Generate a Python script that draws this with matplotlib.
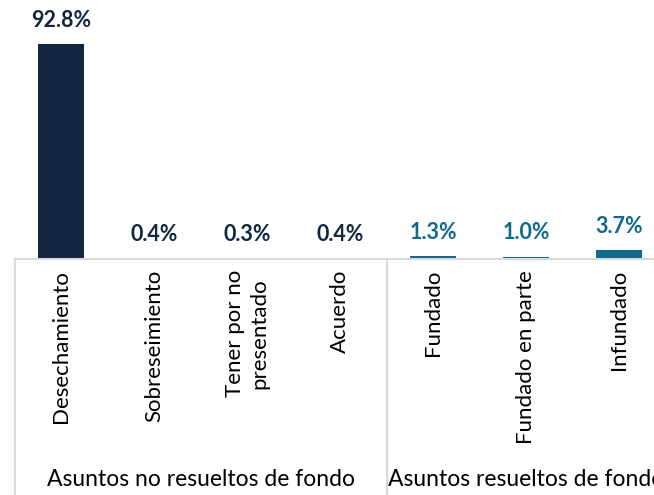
import matplotlib.pyplot as plt

# Data
categories = ["Desechamiento", "Sobreseimiento", "Tener por no\npresentado", "Acuerdo",
              "Fundado", "Fundado en parte", "Infundado"]
values = [92.8, 0.4, 0.3, 0.4, 1.3, 1.0, 3.7]
groups = ["Asuntos no resueltos de fondo", "Asuntos resueltos de fondo"]
group_sizes = [4, 3]

navy = "#13263F"
teal = "#106B8A"
colors = [navy] * 4 + [teal] * 3
grid_gray = "#D9D9D9"

plt.rcParams['font.family'] = ['Lato', 'DejaVu Sans']

fig = plt.figure(figsize=(6.54, 4.95), dpi=100)
base = (495 - 259) / 495
ax = fig.add_axes([0, base, 1, 1 - base])

x = list(range(len(categories)))
ax.bar(x, values, width=0.5, color=colors)
ax.set_xlim(-0.656, 6.376)
ax.set_ylim(0, 92.8 * 259 / 215)

for xi, v, c in zip(x, values, colors):
    ax.annotate(f"{v:.1f}%", (xi, v), xytext=(0, 9.5), textcoords="offset points",
                ha="center", va="bottom", fontsize=15.5, fontweight="bold", color=c)

for s in ax.spines.values():
    s.set_visible(False)
ax.set_xticks([])
ax.set_yticks([])

# baseline and category labels
ax.plot([-0.5, 7], [0, 0], color=grid_gray, lw=1.5, clip_on=False)
for xi, cat in zip(x, categories):
    ax.annotate(cat, (xi, 0), xytext=(0, -8), textcoords="offset points",
                ha="center", va="top", rotation=90, fontsize=16, color="black",
                multialignment="center", annotation_clip=False, linespacing=1.3)

# group separators and labels (second label runs off the right edge, as in the source)
start = -0.5
trans = ax.get_xaxis_transform()
for g, n in zip(groups, group_sizes):
    ax.plot([start, start], [0, -base / (1 - base)], transform=trans,
            color=grid_gray, lw=1.5, clip_on=False)
    center = start + n / 2
    ax.text(center, -(base - 15 / 495) / (1 - base), g, transform=trans,
            ha="center", va="center", fontsize=16.5, color="black", clip_on=False)
    start += n
ax.plot([start, start], [0, -base / (1 - base)], transform=trans,
        color=grid_gray, lw=1.5, clip_on=False)

fig.savefig("out.png", dpi=100)
